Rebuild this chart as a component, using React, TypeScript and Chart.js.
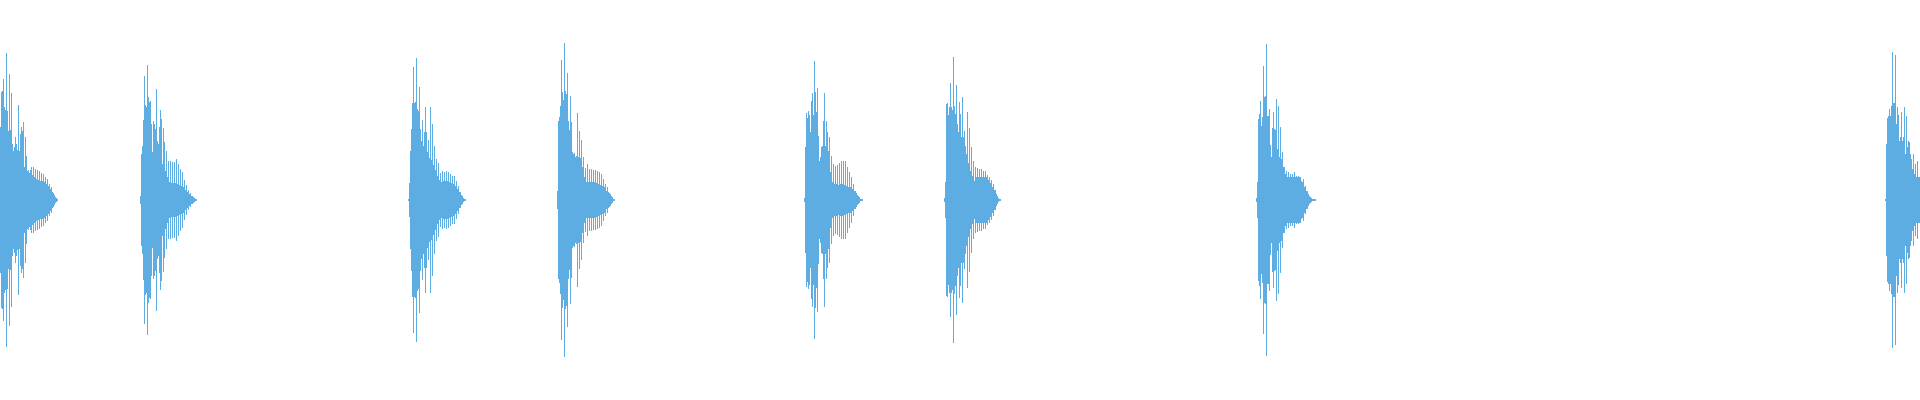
import React, { useEffect, useRef } from 'react';
import { Chart, registerables } from 'chart.js';

Chart.register(...registerables);

// Onset (sample index) of each burst on the time axis
const onsets = [0, 140, 408, 557, 804, 944, 1256, 1885];

// Peak amplitude per sample column for each burst (symmetric around 0)
const burst1 = [73, 108, 109, 121, 93, 90, 147, 89, 69, 126, 70, 107, 56, 49, 53, 63, 56, 50, 95, 49, 66, 73, 69, 78, 33, 63, 44, 29, 30, 27, 30, 33, 25, 33, 23, 31, 21, 30, 20, 29, 19, 27, 19, 26, 18, 23, 16, 21, 14, 16, 11, 13, 8, 7, 5, 3, 2, 1];
const burst2 = [4, 46, 54, 80, 124, 95, 93, 135, 103, 98, 99, 76, 48, 79, 76, 71, 111, 59, 56, 73, 90, 81, 36, 72, 58, 29, 49, 23, 39, 18, 39, 17, 38, 17, 38, 17, 41, 16, 36, 15, 31, 14, 28, 13, 20, 10, 15, 8, 10, 6, 7, 4, 4, 3, 2, 1, 1];
const burst3 = [1, 17, 49, 71, 97, 133, 97, 98, 142, 91, 89, 113, 71, 59, 80, 54, 68, 93, 68, 48, 60, 42, 93, 40, 76, 35, 54, 30, 41, 24, 37, 20, 27, 18, 29, 19, 28, 19, 29, 19, 28, 18, 26, 17, 24, 16, 24, 14, 19, 11, 14, 8, 8, 5, 4, 2, 1, 1];
const burst4 = [9, 79, 83, 94, 140, 108, 100, 157, 109, 106, 127, 79, 70, 104, 78, 48, 46, 47, 43, 44, 87, 43, 69, 42, 60, 33, 43, 23, 32, 18, 36, 18, 31, 18, 31, 18, 30, 18, 30, 17, 29, 16, 28, 15, 26, 14, 21, 13, 16, 9, 13, 8, 7, 6, 4, 3, 1, 1];
const burst5 = [2, 53, 87, 82, 89, 85, 68, 99, 107, 85, 139, 108, 88, 112, 64, 39, 43, 53, 54, 79, 107, 54, 79, 68, 49, 63, 28, 44, 18, 36, 16, 34, 16, 35, 15, 37, 16, 39, 16, 39, 15, 39, 14, 33, 13, 28, 13, 23, 11, 16, 9, 9, 7, 5, 4, 3, 1, 1, 1];
const burst6 = [2, 18, 96, 97, 85, 93, 117, 93, 90, 143, 94, 86, 115, 76, 68, 98, 86, 63, 103, 63, 69, 54, 46, 88, 37, 72, 29, 53, 24, 39, 19, 33, 23, 32, 23, 31, 23, 31, 23, 29, 23, 29, 23, 25, 20, 23, 17, 20, 13, 16, 10, 10, 6, 4, 2, 1, 1];
const burst7 = [2, 18, 81, 86, 99, 74, 83, 134, 103, 104, 156, 84, 84, 91, 55, 43, 72, 88, 71, 70, 101, 51, 94, 43, 73, 41, 48, 33, 33, 26, 29, 23, 28, 23, 26, 23, 26, 23, 28, 23, 24, 23, 24, 23, 23, 19, 18, 21, 13, 14, 9, 9, 6, 4, 3, 2, 1, 1, 1, 1];
const burst8 = [1, 56, 82, 84, 91, 84, 94, 148, 97, 97, 145, 76, 93, 85, 59, 63, 88, 59, 63, 93, 46, 84, 53, 59, 58, 46, 41, 31, 46, 26, 36, 23, 39, 23, 23];

const bursts = [burst1, burst2, burst3, burst4, burst5, burst6, burst7, burst8];

const WAVE_COLOR = '#5dade2';

export default function App() {
  const ref = useRef<HTMLCanvasElement | null>(null);

  useEffect(() => {
    document.body.style.margin = '0';
    if (!ref.current) return;
    const points: { x: number; y: [number, number] }[] = [];
    bursts.forEach((b, i) => {
      b.forEach((a, k) => {
        points.push({ x: onsets[i] + k + 0.5, y: [-a, a] });
      });
    });
    const chart = new Chart(ref.current, {
      type: 'bar',
      data: {
        datasets: [
          {
            data: points as any,
            backgroundColor: WAVE_COLOR,
            borderWidth: 0,
            barThickness: 1,
            inflateAmount: 0,
          } as any,
        ],
      },
      options: {
        animation: false,
        responsive: false,
        maintainAspectRatio: false,
        layout: { padding: 0 },
        plugins: { legend: { display: false }, tooltip: { enabled: false } },
        scales: {
          x: { type: 'linear', min: 0, max: 1920, offset: false, display: false },
          y: { min: -200, max: 200, display: false },
        },
      },
    });
    return () => chart.destroy();
  }, []);

  return (
    <div style={{ width: 1920, height: 400 }}>
      <canvas ref={ref} width={1920} height={400} style={{ display: 'block' }} />
    </div>
  );
}
